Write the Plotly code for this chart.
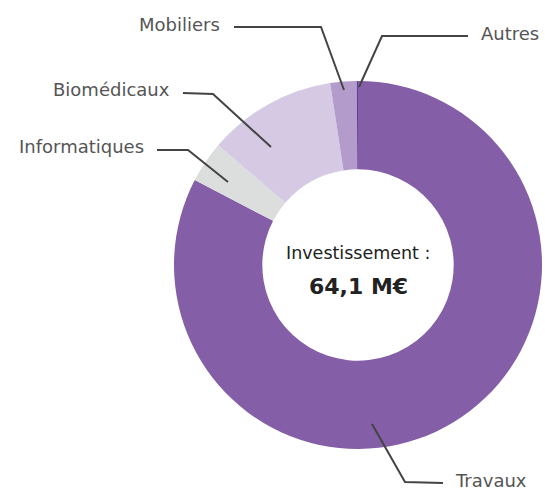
import plotly.graph_objects as go

# Data (M€)
categories = ["Travaux", "Informatiques", "Biomédicaux", "Mobiliers", "Autres"]
values = [53.0, 2.33, 7.26, 1.48, 0.07]
colors = ["#845EA6", "#DCDEDD", "#D5C9E4", "#B39BCB", "#5E3E9A"]
center_title = "Investissement :"
center_value = "64,1 M€"

W, H = 545, 490
CX, CY, R = 358, 265, 184
FONT = "DejaVu Sans"

# Leader line geometry (pixels): start, elbow, end, label anchor
leaders = {
    "Travaux":       dict(pts=[(372, 424), (405, 482), (443, 483)], lx=453, ly=480, anchor="left"),
    "Autres":        dict(pts=[(359, 87), (382, 36), (468, 36)], lx=479, ly=34, anchor="left"),
    "Mobiliers":     dict(pts=[(344, 90), (321, 27), (234, 27)], lx=222, ly=24, anchor="right"),
    "Biomédicaux":   dict(pts=[(271, 147), (213, 94), (183, 93)], lx=172, ly=90, anchor="right"),
    "Informatiques": dict(pts=[(228, 182), (188, 150), (157, 150)], lx=146, ly=146, anchor="right"),
}

def px(x):
    return x / W

def py(y):
    return 1 - y / H

fig = go.Figure(go.Pie(
    labels=categories,
    values=values,
    hole=0.52,
    sort=False,
    direction="clockwise",
    rotation=0,
    marker=dict(colors=colors, line=dict(width=0)),
    textinfo="none",
    hoverinfo="label+value",
    showlegend=False,
    domain=dict(x=[px(CX - R), px(CX + R)], y=[py(CY + R), py(CY - R)]),
))

shapes = []
annotations = []
for name in categories:
    d = leaders[name]
    path = "M " + " L ".join(f"{px(x)},{py(y)}" for x, y in d["pts"])
    shapes.append(dict(type="path", xref="paper", yref="paper", path=path,
                       line=dict(color="#444444", width=2)))
    annotations.append(dict(x=px(d["lx"]), y=py(d["ly"]), xref="paper", yref="paper",
                            text=name, showarrow=False, xanchor=d["anchor"], yanchor="middle",
                            font=dict(family=FONT, size=18, color="#555555")))

annotations.append(dict(x=px(CX), y=py(253), xref="paper", yref="paper", text=center_title,
                        showarrow=False, xanchor="center", yanchor="middle",
                        font=dict(family=FONT, size=17.5, color="#222222")))
annotations.append(dict(x=px(CX), y=py(286), xref="paper", yref="paper", text=f"<b>{center_value}</b>",
                        showarrow=False, xanchor="center", yanchor="middle",
                        font=dict(family=FONT, size=22, color="#222222")))

fig.update_layout(
    width=W, height=H,
    margin=dict(l=0, r=0, t=0, b=0),
    paper_bgcolor="white", plot_bgcolor="white",
    shapes=shapes, annotations=annotations,
)

fig.write_html("out.html", config={"displayModeBar": False},
               post_script="document.body.style.margin='0px';document.body.style.overflow='hidden';")
